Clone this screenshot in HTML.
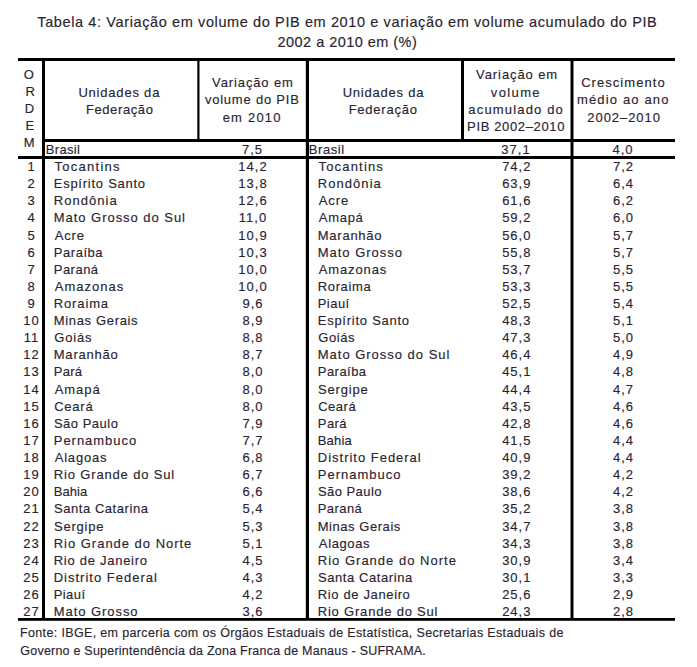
<!DOCTYPE html>
<html><head><meta charset="utf-8"><style>
html,body{margin:0;padding:0;background:#fff;}
svg{display:block;}
text{font-family:"Liberation Sans",sans-serif;fill:#2a2430;stroke:#2a2430;stroke-width:0.15px;}
rect{fill:#000;}
</style></head><body>
<svg width="697" height="667" viewBox="0 0 697 667" font-size="13">
<rect x="18" y="58" width="657" height="3"/>
<rect x="44" y="139" width="631" height="3"/>
<rect x="18" y="156" width="657" height="3"/>
<rect x="18" y="618" width="657" height="2.8"/>
<rect x="42" y="58" width="3" height="562"/>
<rect x="197.3" y="58" width="2.2" height="83"/>
<rect x="305.8" y="58" width="3.2" height="562"/>
<rect x="461" y="58" width="3" height="83"/>
<rect x="570.5" y="58" width="3" height="562"/>
<text x="37.29" y="26.90" font-size="14.5" textLength="619.47" lengthAdjust="spacing">Tabela 4: Variação em volume do PIB em 2010 e variação em volume acumulado do PIB</text>
<text x="277.53" y="46.90" font-size="14.5" textLength="139.26" lengthAdjust="spacing">2002 a 2010 em (%)</text>
<text x="78.41" y="96.70" textLength="80.97" lengthAdjust="spacing">Unidades da</text>
<text x="85.89" y="114.20" textLength="67.01" lengthAdjust="spacing">Federação</text>
<text x="212.06" y="87.00" textLength="80.89" lengthAdjust="spacing">Variação em</text>
<text x="204.89" y="104.20" textLength="93.97" lengthAdjust="spacing">volume do PIB</text>
<text x="222.64" y="122.20" textLength="57.90" lengthAdjust="spacing">em 2010</text>
<text x="342.70" y="96.70" textLength="80.68" lengthAdjust="spacing">Unidades da</text>
<text x="348.66" y="114.20" textLength="68.24" lengthAdjust="spacing">Federação</text>
<text x="476.08" y="79.40" textLength="81.12" lengthAdjust="spacing">Variação em</text>
<text x="490.80" y="96.70" textLength="48.78" lengthAdjust="spacing">volume</text>
<text x="468.35" y="113.90" textLength="94.50" lengthAdjust="spacing">acumulado do</text>
<text x="467.10" y="130.60" textLength="97.37" lengthAdjust="spacing">PIB 2002–2010</text>
<text x="581.17" y="87.00" textLength="83.47" lengthAdjust="spacing">Crescimento</text>
<text x="576.88" y="104.40" textLength="91.61" lengthAdjust="spacing">médio ao ano</text>
<text x="587.29" y="122.00" textLength="72.62" lengthAdjust="spacing">2002–2010</text>
<text x="45.69" y="153.90" textLength="34.24" lengthAdjust="spacing">Brasil</text>
<text x="308.74" y="153.90" textLength="35.51" lengthAdjust="spacing">Brasil</text>
<text x="20.04" y="637.20" font-size="12.5" textLength="543.34" lengthAdjust="spacing">Fonte: IBGE, em parceria com os Órgãos Estaduais de Estatística, Secretarias Estaduais de</text>
<text x="20.28" y="655.00" font-size="12.5" textLength="405.57" lengthAdjust="spacing">Governo e Superintendência da Zona Franca de Manaus - SUFRAMA.</text>
<text x="54.47" y="171.10" textLength="65.12" lengthAdjust="spacing">Tocantins</text>
<text x="318.53" y="171.10" textLength="64.32" lengthAdjust="spacing">Tocantins</text>
<text x="53.73" y="188.22" textLength="91.37" lengthAdjust="spacing">Espírito Santo</text>
<text x="317.74" y="188.22" textLength="63.10" lengthAdjust="spacing">Rondônia</text>
<text x="53.76" y="205.33" textLength="63.04" lengthAdjust="spacing">Rondônia</text>
<text x="318.82" y="205.33" textLength="29.33" lengthAdjust="spacing">Acre</text>
<text x="53.76" y="222.44" textLength="131.25" lengthAdjust="spacing">Mato Grosso do Sul</text>
<text x="318.78" y="222.44" textLength="44.02" lengthAdjust="spacing">Amapá</text>
<text x="54.69" y="239.56" textLength="29.30" lengthAdjust="spacing">Acre</text>
<text x="317.75" y="239.56" textLength="63.82" lengthAdjust="spacing">Maranhão</text>
<text x="53.78" y="256.67" textLength="48.82" lengthAdjust="spacing">Paraíba</text>
<text x="317.74" y="256.67" textLength="84.16" lengthAdjust="spacing">Mato Grosso</text>
<text x="53.76" y="273.79" textLength="44.32" lengthAdjust="spacing">Paraná</text>
<text x="318.82" y="273.79" textLength="67.39" lengthAdjust="spacing">Amazonas</text>
<text x="54.69" y="290.90" textLength="68.68" lengthAdjust="spacing">Amazonas</text>
<text x="317.74" y="290.90" textLength="52.96" lengthAdjust="spacing">Roraima</text>
<text x="53.73" y="308.02" textLength="54.37" lengthAdjust="spacing">Roraima</text>
<text x="317.74" y="308.02" textLength="31.50" lengthAdjust="spacing">Piauí</text>
<text x="53.73" y="325.13" textLength="83.87" lengthAdjust="spacing">Minas Gerais</text>
<text x="317.74" y="325.13" textLength="91.36" lengthAdjust="spacing">Espírito Santo</text>
<text x="54.18" y="342.25" textLength="37.42" lengthAdjust="spacing">Goiás</text>
<text x="318.17" y="342.25" textLength="36.41" lengthAdjust="spacing">Goiás</text>
<text x="53.73" y="359.37" textLength="64.12" lengthAdjust="spacing">Maranhão</text>
<text x="317.74" y="359.37" textLength="131.65" lengthAdjust="spacing">Mato Grosso do Sul</text>
<text x="53.76" y="376.48" textLength="28.34" lengthAdjust="spacing">Pará</text>
<text x="317.75" y="376.48" textLength="48.35" lengthAdjust="spacing">Paraíba</text>
<text x="54.69" y="393.59" textLength="44.92" lengthAdjust="spacing">Amapá</text>
<text x="317.93" y="393.59" textLength="49.89" lengthAdjust="spacing">Sergipe</text>
<text x="54.18" y="410.71" textLength="38.54" lengthAdjust="spacing">Ceará</text>
<text x="318.13" y="410.71" textLength="37.56" lengthAdjust="spacing">Ceará</text>
<text x="53.93" y="427.82" textLength="63.97" lengthAdjust="spacing">São Paulo</text>
<text x="317.75" y="427.82" textLength="28.85" lengthAdjust="spacing">Pará</text>
<text x="53.76" y="444.94" textLength="82.46" lengthAdjust="spacing">Pernambuco</text>
<text x="317.74" y="444.94" textLength="33.97" lengthAdjust="spacing">Bahia</text>
<text x="54.69" y="462.05" textLength="51.86" lengthAdjust="spacing">Alagoas</text>
<text x="317.84" y="462.05" textLength="102.88" lengthAdjust="spacing">Distrito Federal</text>
<text x="53.73" y="479.17" textLength="120.52" lengthAdjust="spacing">Rio Grande do Sul</text>
<text x="317.74" y="479.17" textLength="82.74" lengthAdjust="spacing">Pernambuco</text>
<text x="53.76" y="496.28" textLength="33.56" lengthAdjust="spacing">Bahia</text>
<text x="317.91" y="496.28" textLength="63.65" lengthAdjust="spacing">São Paulo</text>
<text x="53.93" y="513.40" textLength="94.02" lengthAdjust="spacing">Santa Catarina</text>
<text x="317.74" y="513.40" textLength="44.05" lengthAdjust="spacing">Paraná</text>
<text x="53.93" y="530.51" textLength="49.60" lengthAdjust="spacing">Sergipe</text>
<text x="317.74" y="530.51" textLength="82.58" lengthAdjust="spacing">Minas Gerais</text>
<text x="53.73" y="547.63" textLength="137.62" lengthAdjust="spacing">Rio Grande do Norte</text>
<text x="318.85" y="547.63" textLength="50.73" lengthAdjust="spacing">Alagoas</text>
<text x="53.76" y="564.75" textLength="93.27" lengthAdjust="spacing">Rio de Janeiro</text>
<text x="317.74" y="564.75" textLength="138.18" lengthAdjust="spacing">Rio Grande do Norte</text>
<text x="53.73" y="581.86" textLength="103.20" lengthAdjust="spacing">Distrito Federal</text>
<text x="317.88" y="581.86" textLength="94.46" lengthAdjust="spacing">Santa Catarina</text>
<text x="53.73" y="598.97" textLength="31.27" lengthAdjust="spacing">Piauí</text>
<text x="317.80" y="598.97" textLength="92.05" lengthAdjust="spacing">Rio de Janeiro</text>
<text x="53.73" y="616.09" textLength="83.83" lengthAdjust="spacing">Mato Grosso</text>
<text x="317.74" y="616.09" textLength="119.75" lengthAdjust="spacing">Rio Grande do Sul</text>
<text x="28.80" y="78.80" text-anchor="middle">O</text>
<text x="30.30" y="95.80" text-anchor="middle">R</text>
<text x="29.40" y="112.80" text-anchor="middle">D</text>
<text x="29.80" y="129.80" text-anchor="middle">E</text>
<text x="29.20" y="146.80" text-anchor="middle">M</text>
<text x="252.50" y="153.90" text-anchor="middle" letter-spacing="1">7,5</text>
<text x="516.00" y="153.90" text-anchor="middle" letter-spacing="1">37,1</text>
<text x="623.00" y="153.90" text-anchor="middle" letter-spacing="1">4,0</text>
<text x="31.50" y="171.10" text-anchor="middle" letter-spacing="1">1</text>
<text x="253.00" y="171.10" text-anchor="middle" letter-spacing="1">14,2</text>
<text x="516.80" y="171.10" text-anchor="middle" letter-spacing="1">74,2</text>
<text x="623.50" y="171.10" text-anchor="middle" letter-spacing="1">7,2</text>
<text x="31.50" y="188.22" text-anchor="middle" letter-spacing="1">2</text>
<text x="253.00" y="188.22" text-anchor="middle" letter-spacing="1">13,8</text>
<text x="516.80" y="188.22" text-anchor="middle" letter-spacing="1">63,9</text>
<text x="623.50" y="188.22" text-anchor="middle" letter-spacing="1">6,4</text>
<text x="31.50" y="205.33" text-anchor="middle" letter-spacing="1">3</text>
<text x="253.00" y="205.33" text-anchor="middle" letter-spacing="1">12,6</text>
<text x="516.80" y="205.33" text-anchor="middle" letter-spacing="1">61,6</text>
<text x="623.50" y="205.33" text-anchor="middle" letter-spacing="1">6,2</text>
<text x="31.50" y="222.44" text-anchor="middle" letter-spacing="1">4</text>
<text x="253.00" y="222.44" text-anchor="middle" letter-spacing="1">11,0</text>
<text x="516.80" y="222.44" text-anchor="middle" letter-spacing="1">59,2</text>
<text x="623.50" y="222.44" text-anchor="middle" letter-spacing="1">6,0</text>
<text x="31.50" y="239.56" text-anchor="middle" letter-spacing="1">5</text>
<text x="253.00" y="239.56" text-anchor="middle" letter-spacing="1">10,9</text>
<text x="516.80" y="239.56" text-anchor="middle" letter-spacing="1">56,0</text>
<text x="623.50" y="239.56" text-anchor="middle" letter-spacing="1">5,7</text>
<text x="31.50" y="256.67" text-anchor="middle" letter-spacing="1">6</text>
<text x="253.00" y="256.67" text-anchor="middle" letter-spacing="1">10,3</text>
<text x="516.80" y="256.67" text-anchor="middle" letter-spacing="1">55,8</text>
<text x="623.50" y="256.67" text-anchor="middle" letter-spacing="1">5,7</text>
<text x="31.50" y="273.79" text-anchor="middle" letter-spacing="1">7</text>
<text x="253.00" y="273.79" text-anchor="middle" letter-spacing="1">10,0</text>
<text x="516.80" y="273.79" text-anchor="middle" letter-spacing="1">53,7</text>
<text x="623.50" y="273.79" text-anchor="middle" letter-spacing="1">5,5</text>
<text x="31.50" y="290.90" text-anchor="middle" letter-spacing="1">8</text>
<text x="253.00" y="290.90" text-anchor="middle" letter-spacing="1">10,0</text>
<text x="516.80" y="290.90" text-anchor="middle" letter-spacing="1">53,3</text>
<text x="623.50" y="290.90" text-anchor="middle" letter-spacing="1">5,5</text>
<text x="31.50" y="308.02" text-anchor="middle" letter-spacing="1">9</text>
<text x="253.00" y="308.02" text-anchor="middle" letter-spacing="1">9,6</text>
<text x="516.80" y="308.02" text-anchor="middle" letter-spacing="1">52,5</text>
<text x="623.50" y="308.02" text-anchor="middle" letter-spacing="1">5,4</text>
<text x="31.50" y="325.13" text-anchor="middle" letter-spacing="1">10</text>
<text x="253.00" y="325.13" text-anchor="middle" letter-spacing="1">8,9</text>
<text x="516.80" y="325.13" text-anchor="middle" letter-spacing="1">48,3</text>
<text x="623.50" y="325.13" text-anchor="middle" letter-spacing="1">5,1</text>
<text x="31.50" y="342.25" text-anchor="middle" letter-spacing="1">11</text>
<text x="253.00" y="342.25" text-anchor="middle" letter-spacing="1">8,8</text>
<text x="516.80" y="342.25" text-anchor="middle" letter-spacing="1">47,3</text>
<text x="623.50" y="342.25" text-anchor="middle" letter-spacing="1">5,0</text>
<text x="31.50" y="359.37" text-anchor="middle" letter-spacing="1">12</text>
<text x="253.00" y="359.37" text-anchor="middle" letter-spacing="1">8,7</text>
<text x="516.80" y="359.37" text-anchor="middle" letter-spacing="1">46,4</text>
<text x="623.50" y="359.37" text-anchor="middle" letter-spacing="1">4,9</text>
<text x="31.50" y="376.48" text-anchor="middle" letter-spacing="1">13</text>
<text x="253.00" y="376.48" text-anchor="middle" letter-spacing="1">8,0</text>
<text x="516.80" y="376.48" text-anchor="middle" letter-spacing="1">45,1</text>
<text x="623.50" y="376.48" text-anchor="middle" letter-spacing="1">4,8</text>
<text x="31.50" y="393.59" text-anchor="middle" letter-spacing="1">14</text>
<text x="253.00" y="393.59" text-anchor="middle" letter-spacing="1">8,0</text>
<text x="516.80" y="393.59" text-anchor="middle" letter-spacing="1">44,4</text>
<text x="623.50" y="393.59" text-anchor="middle" letter-spacing="1">4,7</text>
<text x="31.50" y="410.71" text-anchor="middle" letter-spacing="1">15</text>
<text x="253.00" y="410.71" text-anchor="middle" letter-spacing="1">8,0</text>
<text x="516.80" y="410.71" text-anchor="middle" letter-spacing="1">43,5</text>
<text x="623.50" y="410.71" text-anchor="middle" letter-spacing="1">4,6</text>
<text x="31.50" y="427.82" text-anchor="middle" letter-spacing="1">16</text>
<text x="253.00" y="427.82" text-anchor="middle" letter-spacing="1">7,9</text>
<text x="516.80" y="427.82" text-anchor="middle" letter-spacing="1">42,8</text>
<text x="623.50" y="427.82" text-anchor="middle" letter-spacing="1">4,6</text>
<text x="31.50" y="444.94" text-anchor="middle" letter-spacing="1">17</text>
<text x="253.00" y="444.94" text-anchor="middle" letter-spacing="1">7,7</text>
<text x="516.80" y="444.94" text-anchor="middle" letter-spacing="1">41,5</text>
<text x="623.50" y="444.94" text-anchor="middle" letter-spacing="1">4,4</text>
<text x="31.50" y="462.05" text-anchor="middle" letter-spacing="1">18</text>
<text x="253.00" y="462.05" text-anchor="middle" letter-spacing="1">6,8</text>
<text x="516.80" y="462.05" text-anchor="middle" letter-spacing="1">40,9</text>
<text x="623.50" y="462.05" text-anchor="middle" letter-spacing="1">4,4</text>
<text x="31.50" y="479.17" text-anchor="middle" letter-spacing="1">19</text>
<text x="253.00" y="479.17" text-anchor="middle" letter-spacing="1">6,7</text>
<text x="516.80" y="479.17" text-anchor="middle" letter-spacing="1">39,2</text>
<text x="623.50" y="479.17" text-anchor="middle" letter-spacing="1">4,2</text>
<text x="31.50" y="496.28" text-anchor="middle" letter-spacing="1">20</text>
<text x="253.00" y="496.28" text-anchor="middle" letter-spacing="1">6,6</text>
<text x="516.80" y="496.28" text-anchor="middle" letter-spacing="1">38,6</text>
<text x="623.50" y="496.28" text-anchor="middle" letter-spacing="1">4,2</text>
<text x="31.50" y="513.40" text-anchor="middle" letter-spacing="1">21</text>
<text x="253.00" y="513.40" text-anchor="middle" letter-spacing="1">5,4</text>
<text x="516.80" y="513.40" text-anchor="middle" letter-spacing="1">35,2</text>
<text x="623.50" y="513.40" text-anchor="middle" letter-spacing="1">3,8</text>
<text x="31.50" y="530.51" text-anchor="middle" letter-spacing="1">22</text>
<text x="253.00" y="530.51" text-anchor="middle" letter-spacing="1">5,3</text>
<text x="516.80" y="530.51" text-anchor="middle" letter-spacing="1">34,7</text>
<text x="623.50" y="530.51" text-anchor="middle" letter-spacing="1">3,8</text>
<text x="31.50" y="547.63" text-anchor="middle" letter-spacing="1">23</text>
<text x="253.00" y="547.63" text-anchor="middle" letter-spacing="1">5,1</text>
<text x="516.80" y="547.63" text-anchor="middle" letter-spacing="1">34,3</text>
<text x="623.50" y="547.63" text-anchor="middle" letter-spacing="1">3,8</text>
<text x="31.50" y="564.75" text-anchor="middle" letter-spacing="1">24</text>
<text x="253.00" y="564.75" text-anchor="middle" letter-spacing="1">4,5</text>
<text x="516.80" y="564.75" text-anchor="middle" letter-spacing="1">30,9</text>
<text x="623.50" y="564.75" text-anchor="middle" letter-spacing="1">3,4</text>
<text x="31.50" y="581.86" text-anchor="middle" letter-spacing="1">25</text>
<text x="253.00" y="581.86" text-anchor="middle" letter-spacing="1">4,3</text>
<text x="516.80" y="581.86" text-anchor="middle" letter-spacing="1">30,1</text>
<text x="623.50" y="581.86" text-anchor="middle" letter-spacing="1">3,3</text>
<text x="31.50" y="598.97" text-anchor="middle" letter-spacing="1">26</text>
<text x="253.00" y="598.97" text-anchor="middle" letter-spacing="1">4,2</text>
<text x="516.80" y="598.97" text-anchor="middle" letter-spacing="1">25,6</text>
<text x="623.50" y="598.97" text-anchor="middle" letter-spacing="1">2,9</text>
<text x="31.50" y="616.09" text-anchor="middle" letter-spacing="1">27</text>
<text x="253.00" y="616.09" text-anchor="middle" letter-spacing="1">3,6</text>
<text x="516.80" y="616.09" text-anchor="middle" letter-spacing="1">24,3</text>
<text x="623.50" y="616.09" text-anchor="middle" letter-spacing="1">2,8</text>
</svg>
</body></html>
